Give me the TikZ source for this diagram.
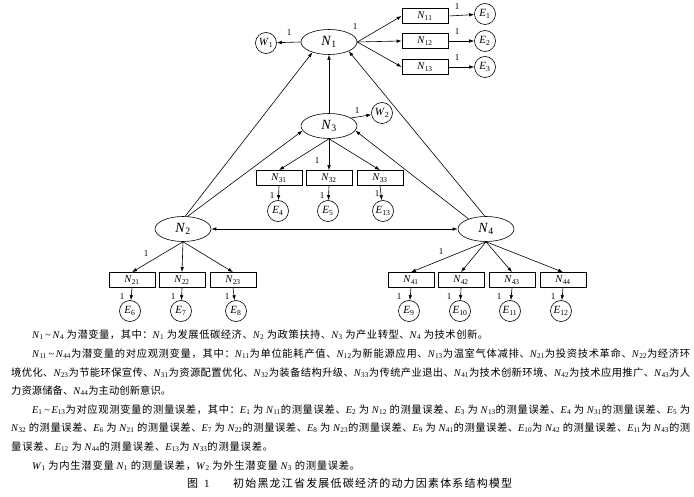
\documentclass[tikz,border=0pt]{standalone}
\usepackage{fontspec}
\setmainfont{Noto Sans CJK SC}
\newfontfamily\lat{Liberation Serif}
\usetikzlibrary{shapes.geometric,arrows.meta,calc}
\newcount\cjkcc
\cjkcc="3000 \loop \XeTeXcharclass\cjkcc=5 \advance\cjkcc 1 \ifnum\cjkcc<"3040 \repeat
\cjkcc="4E00 \loop \XeTeXcharclass\cjkcc=5 \advance\cjkcc 1 \ifnum\cjkcc<"A000 \repeat
\cjkcc="FF00 \loop \XeTeXcharclass\cjkcc=5 \advance\cjkcc 1 \ifnum\cjkcc<"FFF0 \repeat
\XeTeXinterchartokenstate=1
\XeTeXinterchartoks 5 5 = {\hskip 0pt plus 2pt minus 0.3pt\relax}
\newcommand\sv[2]{{\lat\textit{#1}\textsubscript{#2}}}
\newcommand\tld{{\lat\,\textasciitilde\,}}
\begin{document}
\begin{tikzpicture}[x=1pt,y=-1pt,
 lat/.style={ellipse,draw,line width=0.6pt,minimum width=56pt,minimum height=25pt,inner sep=0pt,font=\fontsize{14}{14}\selectfont},
 obs/.style={rectangle,draw,line width=0.7pt,minimum width=46pt,minimum height=15pt,inner sep=0pt,font=\fontsize{10.5}{10.5}\selectfont},
 err/.style={circle,draw,line width=0.6pt,minimum size=21pt,inner sep=0pt,font=\fontsize{11}{11}\selectfont},
 arr/.style={line width=0.6pt,-{Latex[length=5pt,width=3.5pt]}},
 darr/.style={line width=0.6pt,{Latex[length=5pt,width=3.5pt]}-{Latex[length=5pt,width=3.5pt]}},
 one/.style={font=\lat\fontsize{9}{9}\selectfont,inner sep=0pt},
 txt/.style={anchor=base west,inner sep=0pt,font=\fontsize{10.3}{10.3}\selectfont}]
\useasboundingbox (0,0) rectangle (694,497);
% latent variables
\node[lat] (N1) at (329,42) {\sv{N}{1}};
\node[lat] (N3) at (329,126) {\sv{N}{3}};
\node[lat] (N2) at (183,229) {\sv{N}{2}};
\node[lat] (N4) at (486,229) {\sv{N}{4}};
\node[err] (W1) at (266,43) {\sv{W}{1}};
\node[err] (W2) at (382,113) {\sv{W}{2}};
% N1 indicators
\node[obs] (N11) at (425,16) {\sv{N}{11}};
\node[obs] (N12) at (425,41) {\sv{N}{12}};
\node[obs] (N13) at (425,67) {\sv{N}{13}};
\node[err] (E1) at (485,14) {\sv{E}{1}};
\node[err] (E2) at (485,41) {\sv{E}{2}};
\node[err] (E3) at (485,67) {\sv{E}{3}};
% N3 indicators
\node[obs] (N31) at (279,178) {\sv{N}{31}};
\node[obs] (N32) at (329,178) {\sv{N}{32}};
\node[obs] (N33) at (380,178) {\sv{N}{33}};
\node[err] (E4) at (278,211) {\sv{E}{4}};
\node[err] (E5) at (328,211) {\sv{E}{5}};
\node[err] (E13) at (383,211) {\sv{E}{13}};
% N2 indicators
\node[obs] (N21) at (132,280) {\sv{N}{21}};
\node[obs] (N22) at (182,280) {\sv{N}{22}};
\node[obs] (N23) at (233,280) {\sv{N}{23}};
\node[err] (E6) at (130,311) {\sv{E}{6}};
\node[err] (E7) at (181,311) {\sv{E}{7}};
\node[err] (E8) at (236,311) {\sv{E}{8}};
% N4 indicators
\node[obs] (N41) at (411,280) {\sv{N}{41}};
\node[obs] (N42) at (461,280) {\sv{N}{42}};
\node[obs] (N43) at (512,280) {\sv{N}{43}};
\node[obs] (N44) at (563,280) {\sv{N}{44}};
\node[err] (E9) at (409,311) {\sv{E}{9}};
\node[err] (E10) at (460,311) {\sv{E}{10}};
\node[err] (E11) at (510,311) {\sv{E}{11}};
\node[err] (E12) at (561,311) {\sv{E}{12}};
% connectors
\draw[arr] (N1.west) -- (W1);
\foreach \b in {N11,N12,N13} \draw[arr] (N1.east) -- (\b.west);
\draw[arr] (N11.east) -- (E1);
\draw[arr] (N12.east) -- (E2);
\draw[arr] (N13.east) -- (E3);
\draw[arr] (N3.north) -- (N1.south);
\draw[arr] (N3.20) -- (W2);
\foreach \b in {N31,N32,N33} \draw[arr] (N3.south) -- (\b.north);
\draw[arr] (N31.south) -- (E4);
\draw[arr] (N32.south) -- (E5);
\draw[arr] (N33.south) -- (E13);
\draw[arr] (N2.80) -- (N1.212);
\draw[arr] (N2.70) -- (N3.190);
\draw[arr] (N4.95) -- (N1.335);
\draw[arr] (N4.150) -- (N3.350);
\draw[darr] (N2.east) -- (N4.west);
\foreach \b in {N21,N22,N23} \draw[arr] (N2.south) -- (\b.north);
\draw[arr] (N21.south) -- (E6);
\draw[arr] (N22.south) -- (E7);
\draw[arr] (N23.south) -- (E8);
\foreach \b in {N41,N42,N43,N44} \draw[arr] (N4.south) -- (\b.north);
\draw[arr] (N41.south) -- (E9);
\draw[arr] (N42.south) -- (E10);
\draw[arr] (N43.south) -- (E11);
\draw[arr] (N44.south) -- (E12);
% "1" labels
\node[one] (l1) at (289,33) {1};
\node[one] (l2) at (355,27) {1};
\node[one] (l3) at (457,7) {1};
\node[one] (l4) at (457,32) {1};
\node[one] (l5) at (457,58) {1};
\node[one] (l6) at (357,111) {1};
\node[one] (l7) at (317,161) {1};
\node[one] (l8) at (272,196) {1};
\node[one] (l9) at (322,196) {1};
\node[one] (l10) at (377,194) {1};
\node[one] (l11) at (146,254) {1};
\node[one] (l12) at (122,297) {1};
\node[one] (l13) at (173,297) {1};
\node[one] (l14) at (227,297) {1};
\node[one] (l15) at (441,252) {1};
\node[one] (l16) at (399,297) {1};
\node[one] (l17) at (449,297) {1};
\node[one] (l18) at (499,297) {1};
\node[one] (l19) at (553,297) {1};
% notes
\node[txt] (t1) at (32,338) {\hbox to 456pt{\sv{N}{1}\tld\sv{N}{4} 为潜变量，其中：\sv{N}{1} 为发展低碳经济、\sv{N}{2} 为政策扶持、\sv{N}{3} 为产业转型、\sv{N}{4} 为技术创新。}};
\node[txt] (t2) at (32,357) {\hbox to 658pt{\sv{N}{11}\tld\sv{N}{44}为潜变量的对应观测变量，其中：\sv{N}{11}为单位能耗产值、\sv{N}{12}为新能源应用、\sv{N}{13}为温室气体减排、\sv{N}{21}为投资技术革命、\sv{N}{22}为经济环}};
\node[txt] (t3) at (11,376) {\hbox to 679pt{境优化、\sv{N}{23}为节能环保宣传、\sv{N}{31}为资源配置优化、\sv{N}{32}为装备结构升级、\sv{N}{33}为传统产业退出、\sv{N}{41}为技术创新环境、\sv{N}{42}为技术应用推广、\sv{N}{43}为人}};
\node[txt] (t4) at (11,394) {\hbox to 160pt{力资源储备、\sv{N}{44}为主动创新意识。}};
\node[txt] (t5) at (32,413) {\hbox to 658pt{\sv{E}{1}\tld\sv{E}{13}为对应观测变量的测量误差，其中：\sv{E}{1} 为 \sv{N}{11}的测量误差、\sv{E}{2} 为 \sv{N}{12} 的测量误差、\sv{E}{3} 为 \sv{N}{13}的测量误差、\sv{E}{4} 为 \sv{N}{31}的测量误差、\sv{E}{5} 为}};
\node[txt] (t6) at (11,431) {\hbox to 679pt{\sv{N}{32} 的测量误差、\sv{E}{6} 为 \sv{N}{21} 的测量误差、\sv{E}{7} 为 \sv{N}{22}的测量误差、\sv{E}{8} 为 \sv{N}{23}的测量误差、\sv{E}{9} 为 \sv{N}{41}的测量误差、\sv{E}{10}为 \sv{N}{42} 的测量误差、\sv{E}{11}为 \sv{N}{43}的测}};
\node[txt] (t7) at (11,450) {\hbox to 262pt{量误差、\sv{E}{12} 为 \sv{N}{44}的测量误差、\sv{E}{13}为 \sv{N}{33}的测量误差。}};
\node[txt] (t8) at (32,469) {\hbox to 328pt{\sv{W}{1} 为内生潜变量 \sv{N}{1} 的测量误差，\sv{W}{2} 为外生潜变量 \sv{N}{3} 的测量误差。}};
\node[txt,font=\fontsize{11}{11}\selectfont] (c1) at (187,487) {图\hskip6pt{\lat 1}};
\node[txt,font=\fontsize{11}{11}\selectfont] (c2) at (233,487) {\hbox to 279pt{初始黑龙江省发展低碳经济的动力因素体系结构模型}};
\end{tikzpicture}
\end{document}
